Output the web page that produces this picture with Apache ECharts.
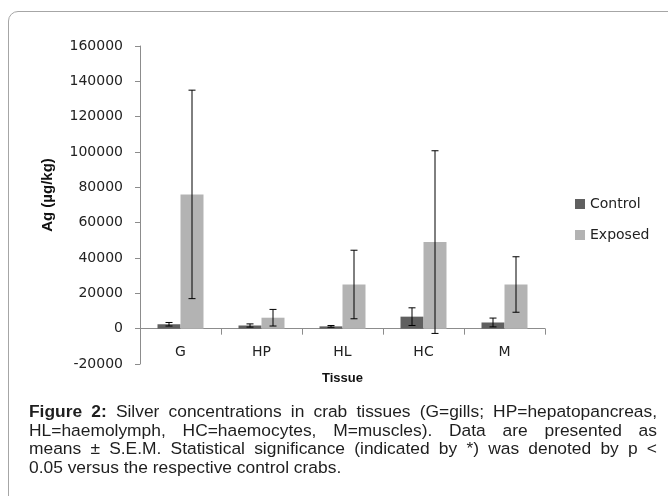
<!DOCTYPE html>
<html>
<head>
<meta charset="utf-8">
<script src="https://cdn.jsdelivr.net/npm/echarts@6/dist/echarts.min.js"></script>
<style>
  html, body { margin: 0; padding: 0; background: #fff; }
  .figure { position: relative; width: 668px; height: 496px; overflow: hidden; }
  .frame {
    position: absolute; left: 8px; top: 11px; width: 720px; height: 540px;
    border: 1.5px solid #a6a6a6; border-radius: 10px;
  }
  #chart { position: absolute; left: 0; top: 0; width: 668px; height: 496px; }
  .caption {
    position: absolute; left: 29px; top: 402px; width: 628px;
    font-family: "Liberation Sans", Arial, sans-serif; font-size: 17.4px;
    line-height: 18.5px; color: #1e1e1e;
  }
  .caption span { display: block; white-space: nowrap; }
  .caption .j { text-align: justify; text-align-last: justify; }
  .caption b { font-weight: bold; }
</style>
</head>
<body>
<div class="figure">
  <div class="frame"></div>
  <div id="chart"></div>
  <div class="caption">
    <span class="j"><b>Figure 2:</b> Silver concentrations in crab tissues (G=gills; HP=hepatopancreas,</span>
    <span class="j">HL=haemolymph, HC=haemocytes, M=muscles). Data are presented as</span>
    <span class="j">means ± S.E.M. Statistical significance (indicated by *) was denoted by p &lt;</span>
    <span>0.05 versus the respective control crabs.</span>
  </div>
</div>
<script>
var categories = ["G", "HP", "HL", "HC", "M"];
var controlMeans = [2500, 1800, 1300, 6800, 3500];
var controlSem = [1000, 900, 500, 5000, 2500];
var exposedMeans = [76000, 6200, 25000, 49000, 25000];
var exposedSem = [59000, 4700, 19400, 51700, 15700];

var barWidth = 23;

function errorSeries(name, means, sem, offset) {
  return {
    name: name + " SEM",
    type: "custom",
    z: 10,
    silent: true,
    renderItem: function (params, api) {
      var i = api.value(0);
      var lo = api.coord([i, api.value(1)]);
      var hi = api.coord([i, api.value(2)]);
      var x = lo[0] + offset;
      var cap = 3.5;
      var style = { stroke: "#000", lineWidth: 1 };
      return {
        type: "group",
        children: [
          { type: "line", shape: { x1: x, y1: lo[1], x2: x, y2: hi[1] }, style: style },
          { type: "line", shape: { x1: x - cap, y1: hi[1], x2: x + cap, y2: hi[1] }, style: style },
          { type: "line", shape: { x1: x - cap, y1: lo[1], x2: x + cap, y2: lo[1] }, style: style }
        ]
      };
    },
    encode: { x: 0, y: [1, 2] },
    data: means.map(function (m, i) { return [i, m - sem[i], m + sem[i]]; })
  };
}

var chart = echarts.init(document.getElementById("chart"), null, { renderer: "canvas" });
chart.setOption({
  animation: false,
  backgroundColor: "transparent",
  textStyle: { fontFamily: "DejaVu Sans" },
  grid: { left: 140, right: 123, top: 46, bottom: 132 },
  legend: {
    orient: "vertical",
    left: 575,
    top: 197,
    padding: 0,
    itemWidth: 10,
    itemHeight: 10,
    itemGap: 17,
    icon: "rect",
    data: ["Control", "Exposed"],
    textStyle: { fontFamily: "DejaVu Sans", fontSize: 14, color: "#222" }
  },
  xAxis: {
    type: "category",
    data: categories,
    name: "Tissue",
    nameLocation: "middle",
    nameGap: 8,
    nameTextStyle: { fontFamily: "Liberation Sans", fontWeight: "bold", fontSize: 13, color: "#111" },
    axisLine: { onZero: true, lineStyle: { color: "#8c8c8c", width: 1 } },
    axisTick: { show: true, length: 6, inside: false, lineStyle: { color: "#8c8c8c" } },
    axisLabel: { margin: -19, fontSize: 14, color: "#222", fontFamily: "DejaVu Sans" }
  },
  yAxis: {
    type: "value",
    min: -20000,
    max: 160000,
    interval: 20000,
    splitLine: { show: false },
    axisLine: { show: true, lineStyle: { color: "#8c8c8c", width: 1 } },
    axisTick: { show: true, length: 5, lineStyle: { color: "#8c8c8c" } },
    axisLabel: {
      margin: 17, fontSize: 14, color: "#222", fontFamily: "DejaVu Sans",
      formatter: function (v) { return String(v); }
    }
  },
  graphic: [
    {
      type: "text",
      x: 48,
      y: 195,
      rotation: Math.PI / 2,
      style: {
        text: "Ag (µg/kg)",
        fontFamily: "Liberation Sans",
        fontWeight: "bold",
        fontSize: 15,
        fill: "#111",
        align: "center",
        verticalAlign: "middle"
      }
    }
  ],
  series: [
    {
      name: "Control",
      type: "bar",
      data: controlMeans,
      barWidth: barWidth,
      barGap: "0%",
      itemStyle: { color: "#606060" }
    },
    {
      name: "Exposed",
      type: "bar",
      data: exposedMeans,
      barWidth: barWidth,
      barGap: "0%",
      itemStyle: { color: "#b3b3b3" }
    },
    errorSeries("Control", controlMeans, controlSem, -barWidth / 2),
    errorSeries("Exposed", exposedMeans, exposedSem, barWidth / 2)
  ]
});
</script>
</body>
</html>
